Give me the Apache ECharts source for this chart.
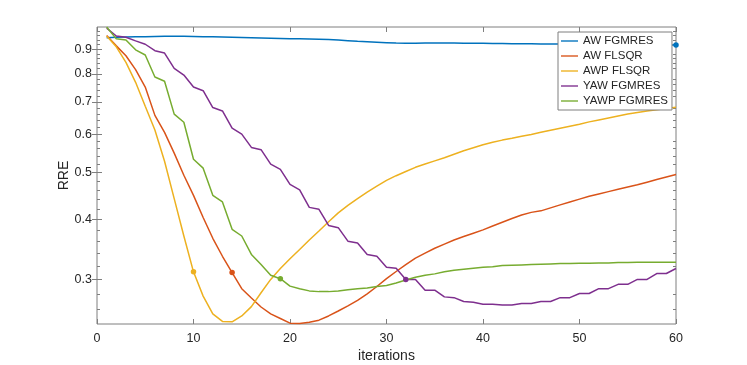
<!DOCTYPE html>
<html>
<head>
<meta charset="utf-8">
<title>RRE</title>
<script src="https://cdn.jsdelivr.net/npm/echarts@6/dist/echarts.min.js"></script>
<style>html,body{margin:0;padding:0;background:#fff;}</style>
</head>
<body>
<div id="main" style="width:747px;height:365px;"></div>
<script>
// iteration index (x)
var iterations = [1,2,3,4,5,6,7,8,9,10,11,12,13,14,15,16,17,18,19,20,
  21,22,23,24,25,26,27,28,29,30,31,32,33,34,35,36,37,38,39,40,
  41,42,43,44,45,46,47,48,49,50,51,52,53,54,55,56,57,58,59,60];

// RRE per method
var awFgmres = [0.950,0.952,0.953,0.954,0.955,0.956,0.957,0.957,0.957,0.956,
  0.955,0.954,0.953,0.952,0.951,0.950,0.949,0.948,0.947,0.946,
  0.945,0.944,0.943,0.942,0.940,0.937,0.934,0.932,0.930,0.928,
  0.926,0.925,0.925,0.926,0.926,0.926,0.926,0.925,0.925,0.925,
  0.924,0.924,0.923,0.923,0.923,0.922,0.922,0.922,0.921,0.921,
  0.921,0.920,0.920,0.920,0.919,0.919,0.919,0.919,0.918,0.918];
var awFlsqr = [0.960,0.914,0.872,0.816,0.751,0.656,0.605,0.548,0.493,0.448,
  0.403,0.365,0.335,0.310,0.287,0.2745,0.263,0.2545,0.249,0.2435,
  0.2430,0.2445,0.247,0.252,0.258,0.2645,0.2715,0.280,0.290,0.301,
  0.3115,0.322,0.332,0.340,0.348,0.355,0.362,0.368,0.374,0.380,
  0.387,0.394,0.401,0.408,0.413,0.416,0.422,0.428,0.434,0.440,
  0.446,0.451,0.456,0.461,0.466,0.471,0.477,0.483,0.489,0.495];
var awpFlsqr = [0.958,0.910,0.845,0.768,0.685,0.612,0.527,0.441,0.369,0.311,
  0.277,0.2545,0.2455,0.245,0.252,0.2635,0.2815,0.300,0.316,0.331,
  0.346,0.362,0.378,0.395,0.412,0.427,0.441,0.455,0.468,0.481,
  0.492,0.502,0.512,0.520,0.528,0.536,0.545,0.554,0.562,0.570,
  0.577,0.583,0.588,0.594,0.599,0.605,0.611,0.617,0.623,0.629,
  0.636,0.642,0.648,0.654,0.660,0.665,0.670,0.674,0.678,0.682];
var yawFgmres = [0.995,0.958,0.952,0.936,0.921,0.893,0.883,0.821,0.795,0.751,
  0.738,0.681,0.670,0.617,0.600,0.563,0.557,0.520,0.507,0.472,
  0.460,0.423,0.419,0.388,0.384,0.360,0.357,0.338,0.335,0.318,
  0.3165,0.300,0.300,0.285,0.285,0.276,0.275,0.270,0.269,0.2665,
  0.2665,0.2655,0.2655,0.2675,0.2675,0.270,0.270,0.275,0.275,0.2805,
  0.2805,0.287,0.287,0.293,0.293,0.300,0.300,0.3085,0.3085,0.316];
var yawpFgmres = [1.0,0.945,0.940,0.897,0.875,0.788,0.772,0.660,0.635,0.532,
  0.510,0.448,0.434,0.381,0.369,0.338,0.322,0.306,0.301,0.2905,
  0.287,0.284,0.283,0.283,0.284,0.2855,0.287,0.288,0.290,0.2915,
  0.295,0.299,0.303,0.306,0.308,0.311,0.3135,0.315,0.3165,0.318,
  0.3185,0.3205,0.321,0.3215,0.322,0.3225,0.323,0.3235,0.3235,0.324,
  0.324,0.3245,0.3245,0.325,0.325,0.3255,0.3255,0.3255,0.3255,0.3255];

var seriesNames = ['AW FGMRES', 'AW FLSQR', 'AWP FLSQR', 'YAW FGMRES', 'YAWP FGMRES'];
var seriesColors = ['#0072BD', '#D95319', '#EDB120', '#7E2F8E', '#77AC30'];
var markerAt = [60, 14, 10, 32, 19];   // iteration with a dot

var yTickValues = [0.3, 0.4, 0.5, 0.6, 0.7, 0.8, 0.9];
var yTickLabels = ['0.3', '0.4', '0.5', '0.6', '0.7', '0.8', '0.9'];
var yMinorTicks = [0.26,0.28,0.32,0.34,0.36,0.38,0.42,0.44,0.46,0.48,0.52,0.54,0.56,0.58,
  0.62,0.64,0.66,0.68,0.72,0.74,0.76,0.78,0.82,0.84,0.86,0.88,0.92,0.94,0.96,0.98];

var font = '"Liberation Sans", Arial, Helvetica, sans-serif';
var axisGray = '#7f7f7f';
var textColor = '#262626';
var yMin = 0.2425, yMax = 1.0;

var chart = echarts.init(document.getElementById('main'));

var allData = [awFgmres, awFlsqr, awpFlsqr, yawFgmres, yawpFgmres];
var series = [];
for (var s = 0; s < allData.length; s++) {
  var pts = [];
  for (var i = 0; i < iterations.length; i++) {
    if (iterations[i] === markerAt[s]) {
      pts.push({ value: [iterations[i], allData[s][i]], symbol: 'circle', symbolSize: 5.5 });
    } else {
      pts.push([iterations[i], allData[s][i]]);
    }
  }
  series.push({
    name: seriesNames[s],
    type: 'line',
    data: pts,
    xAxisIndex: 0,
    yAxisIndex: 0,
    symbol: 'none',
    showSymbol: true,
    color: seriesColors[s],
    lineStyle: { width: 1.5, color: seriesColors[s] },
    itemStyle: { color: seriesColors[s] },
    emphasis: { disabled: true }
  });
}

function tickAxis(pos, values, len) {
  return {
    type: 'log', logBase: 10, min: yMin, max: yMax, position: pos,
    axisLine: { show: false },
    axisTick: { show: true, inside: true, length: len, customValues: values,
      lineStyle: { color: axisGray, width: 1 } },
    axisLabel: { show: false },
    splitLine: { show: false }
  };
}

var option = {
  animation: false,
  backgroundColor: '#fff',
  textStyle: { fontFamily: font },
  grid: {
    left: 97, right: 71, top: 27, bottom: 41,
    outerBoundsMode: 'none',
    show: true, borderColor: axisGray, borderWidth: 1, backgroundColor: 'transparent'
  },
  legend: {
    orient: 'vertical',
    left: 558, top: 32,
    padding: [3, 4, 3, 3],
    icon: 'path://M0,0 H20 V1.6 H0 Z',
    itemWidth: 17, itemHeight: 12, itemGap: 3,
    borderColor: axisGray, borderWidth: 1, backgroundColor: '#fff',
    textStyle: { fontFamily: font, fontSize: 11.5, color: textColor },
    data: seriesNames
  },
  xAxis: [{
    type: 'value', min: 0, max: 60, interval: 10, position: 'bottom',
    name: 'iterations', nameLocation: 'middle', nameGap: 25, nameMoveOverlap: false,
    nameTextStyle: { fontFamily: font, fontSize: 14, color: textColor },
    axisLine: { show: false },
    axisTick: { inside: true, length: 5, lineStyle: { color: axisGray } },
    axisLabel: { fontFamily: font, fontSize: 12.5, color: textColor, margin: 8 },
    splitLine: { show: false }
  }, {
    type: 'value', min: 0, max: 60, interval: 10, position: 'top',
    axisLine: { show: false },
    axisTick: { inside: true, length: 5, lineStyle: { color: axisGray } },
    axisLabel: { show: false },
    splitLine: { show: false }
  }],
  yAxis: [{
    type: 'log', logBase: 10, min: yMin, max: yMax, position: 'left',
    name: 'RRE', nameLocation: 'middle', nameGap: 26, nameMoveOverlap: false,
    nameTextStyle: { fontFamily: font, fontSize: 14, color: textColor },
    axisLine: { show: false },
    axisTick: { show: true, inside: true, length: 5, customValues: yTickValues,
      lineStyle: { color: axisGray } },
    axisLabel: { fontFamily: font, fontSize: 12.5, color: textColor, margin: 5,
      customValues: yTickValues,
      formatter: function (v) {
        var k = yTickValues.indexOf(Math.round(v * 10) / 10);
        return k >= 0 ? yTickLabels[k] : '';
      } },
    splitLine: { show: false }
  },
    tickAxis('right', yTickValues, 5),
    tickAxis('left', yMinorTicks, 3),
    tickAxis('right', yMinorTicks, 3)
  ],
  series: series
};

chart.setOption(option);
</script>
</body>
</html>
